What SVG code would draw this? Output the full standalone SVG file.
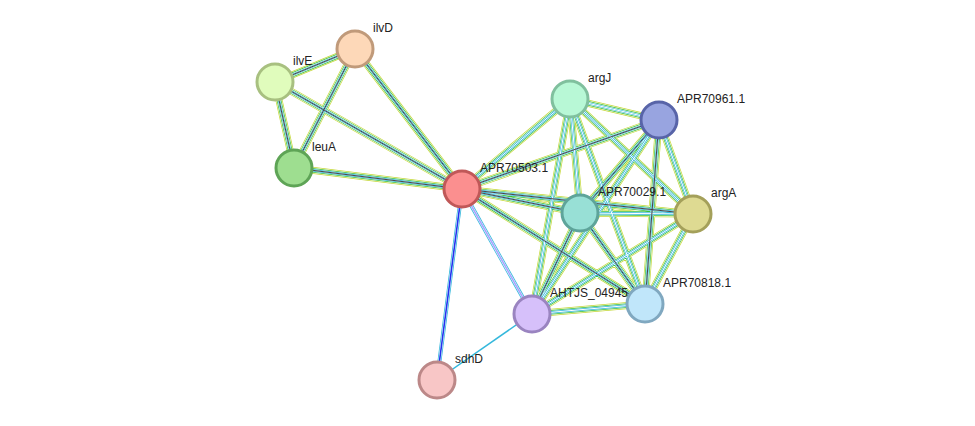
<svg xmlns="http://www.w3.org/2000/svg" width="975" height="426" viewBox="0 0 975 426">
<style>
.a{stroke:#c5d83a;stroke-width:7}
.w1{stroke:#fff;stroke-width:5.6}
.b{stroke:#3cbf3c;stroke-width:4.6}
.w2{stroke:#fff;stroke-width:3.2}
.c{stroke:#35b8dc;stroke-width:2.3}
.w3{stroke:#fff;stroke-width:1}
.d{stroke:#444;stroke-width:1}
.n circle{stroke-width:3}
text{font-family:"Liberation Sans",Arial,sans-serif;font-size:12px;fill:#222}
</style>
<defs>
<path id="E" d="M355 49L275 82M355 49L294 168M355 49L462 189M275 82L294 168M275 82L462 189M294 168L462 189M462 189L570 99M462 189L659 120M462 189L580 213M462 189L693 214M462 189L645 304M570 99L659 120M570 99L580 213M570 99L693 214M570 99L645 304M570 99L532 314M659 120L580 213M659 120L693 214M659 120L645 304M659 120L532 314M580 213L693 214M580 213L645 304M580 213L532 314M693 214L645 304M693 214L532 314M645 304L532 314"/>
</defs>
<rect width="975" height="426" fill="#fff"/>
<g id="connectors" fill="none">
<use href="#E" class="a"/>
<use href="#E" class="w1"/>
<use href="#E" class="b"/>
<use href="#E" class="w2"/>
<use href="#E" class="c"/>
<use href="#E" class="w3"/>
<path class="d" d="M355 49L275 82M355 49L294 168M355 49L462 189M275 82L294 168M275 82L462 189M294 168L462 189M462 189L659 120M462 189L580 213M462 189L693 214M462 189L645 304M659 120L580 213M659 120L645 304M580 213L532 314M580 213L645 304"/>
<path d="M462 189L437 380" stroke="#35b8dc" stroke-width="4"/>
<path d="M462 189L437 380" stroke="#fff" stroke-width="2.4"/>
<path d="M462 189L437 380" stroke="#2233ee" stroke-width="1.6"/>
<path d="M462 189L532 314" stroke="#35b8dc" stroke-width="4"/>
<path d="M462 189L532 314" stroke="#fff" stroke-width="2.4"/>
<path d="M462 189L532 314" stroke="#a9a4ff" stroke-width="1.6"/>
<path d="M532 314L437 380" stroke="#35b8dc" stroke-width="1.5"/>
</g>
<g id="ilvD" class="n"><circle cx="355" cy="49" r="18" fill="#fdd8b8" stroke="#c09a7a"/><text x="373" y="32">ilvD</text></g>
<g id="ilvE" class="n"><circle cx="275" cy="82" r="18" fill="#e0fcbc" stroke="#a8c080"/><text x="293" y="65">ilvE</text></g>
<g id="leuA" class="n"><circle cx="294" cy="168" r="18" fill="#9ede90" stroke="#5ea456"/><text x="312" y="151">leuA</text></g>
<g id="APR70503.1" class="n"><circle cx="462" cy="189" r="18" fill="#fb8f8f" stroke="#c05858"/><text x="480" y="172">APR70503.1</text></g>
<g id="argJ" class="n"><circle cx="570" cy="99" r="18" fill="#b8f8d6" stroke="#80c09e"/><text x="588" y="82">argJ</text></g>
<g id="APR70961.1" class="n"><circle cx="659" cy="120" r="18" fill="#98a4e0" stroke="#5864a8"/><text x="677" y="103">APR70961.1</text></g>
<g id="APR70029.1" class="n"><circle cx="580" cy="213" r="18" fill="#98e0d6" stroke="#5ea49a"/><text x="598" y="196">APR70029.1</text></g>
<g id="argA" class="n"><circle cx="693" cy="214" r="18" fill="#deda92" stroke="#a4a05a"/><text x="711" y="197">argA</text></g>
<g id="APR70818.1" class="n"><circle cx="645" cy="304" r="18" fill="#c0e6fa" stroke="#80a8c0"/><text x="663" y="287">APR70818.1</text></g>
<g id="AHTJS_04945" class="n"><circle cx="532" cy="314" r="18" fill="#d6c0fa" stroke="#9a84c0"/><text x="550" y="297">AHTJS_04945</text></g>
<g id="sdhD" class="n"><circle cx="437" cy="380" r="18" fill="#f8c6c6" stroke="#bc8888"/><text x="455" y="363">sdhD</text></g>
</svg>
